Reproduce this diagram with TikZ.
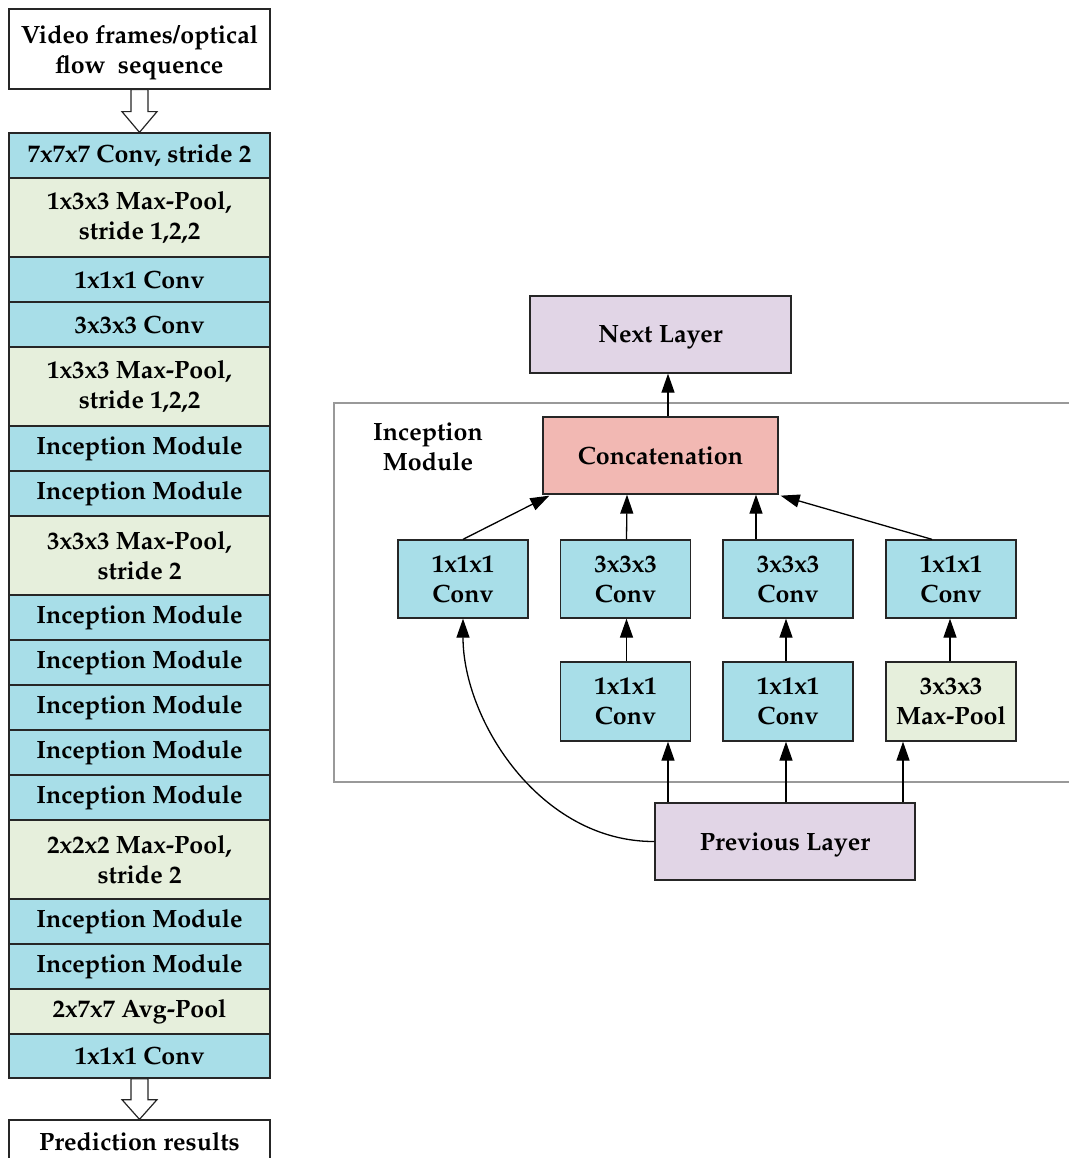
\documentclass[tikz,border=0pt]{standalone}
\usepackage[T1]{fontenc}
\usepackage{mathpazo}
\usetikzlibrary{arrows.meta,calc}
\definecolor{cblue}{HTML}{A8DEE8}
\definecolor{cgreen}{HTML}{E6EFDC}
\definecolor{cpurple}{HTML}{E1D5E6}
\definecolor{cpink}{HTML}{F2B8B3}
\definecolor{cframe}{HTML}{999999}
\tikzset{
  lbl/.style={font=\fontsize{25}{30}\selectfont\bfseries, align=center},
  box/.style={draw=black!85, line width=1.3pt, rectangle, inner sep=0pt, lbl},
  stackbox/.style={box, minimum width=261pt},
  conv/.style={fill=cblue},
  pool/.style={fill=cgreen},
  layer/.style={fill=cpurple, text depth=0pt},
  conn/.style={line width=1.3pt, -{Triangle[length=19pt,width=13pt]}},
  hollow/.style={draw=black!85, line width=1.2pt, fill=white},
}
\begin{document}
\begin{tikzpicture}[x=1pt,y=-1pt]
\useasboundingbox (0,0) rectangle (1068,1158);
% ---------- left column ----------
\node[stackbox, fill=white, minimum height=80pt, text depth=0pt] (in) at (139.5,49) {Video frames/optical\\flow~~sequence};
\node[stackbox, conv, minimum height=45pt] (c1) at (139.5,155.5) {7x7x7 Conv, stride 2};
\node[stackbox, pool, minimum height=79pt] (c2) at (139.5,217.5) {1x3x3 Max-Pool,\\stride 1,2,2};
\node[stackbox, conv, minimum height=45pt] (c3) at (139.5,279.5) {1x1x1 Conv};
\node[stackbox, conv, minimum height=45pt] (c4) at (139.5,324.5) {3x3x3 Conv};
\node[stackbox, pool, minimum height=79pt] (c5) at (139.5,386.5) {1x3x3 Max-Pool,\\stride 1,2,2};
\node[stackbox, conv, minimum height=45pt] (c6) at (139.5,448.5) {Inception Module};
\node[stackbox, conv, minimum height=45pt] (c7) at (139.5,493.5) {Inception Module};
\node[stackbox, pool, minimum height=79pt] (c8) at (139.5,555.5) {3x3x3 Max-Pool,\\stride 2};
\node[stackbox, conv, minimum height=45pt] (c9) at (139.5,617.5) {Inception Module};
\node[stackbox, conv, minimum height=45pt] (c10) at (139.5,662.5) {Inception Module};
\node[stackbox, conv, minimum height=45pt] (c11) at (139.5,707.5) {Inception Module};
\node[stackbox, conv, minimum height=45pt] (c12) at (139.5,752.5) {Inception Module};
\node[stackbox, conv, minimum height=45pt] (c13) at (139.5,797.5) {Inception Module};
\node[stackbox, pool, minimum height=79pt] (c14) at (139.5,859.5) {2x2x2 Max-Pool,\\stride 2};
\node[stackbox, conv, minimum height=45pt] (c15) at (139.5,921.5) {Inception Module};
\node[stackbox, conv, minimum height=45pt] (c16) at (139.5,966.5) {Inception Module};
\node[stackbox, pool, minimum height=45pt] (c17) at (139.5,1011.5) {2x7x7 Avg-Pool};
\node[stackbox, conv, minimum height=44pt] (c18) at (139.5,1056) {1x1x1 Conv};
\node[stackbox, fill=white, minimum height=50pt, text depth=0pt] (out) at (139.5,1145) {};
\node[lbl] (outtxt) at (139.5,1142) {Prediction results};
% hollow block arrows
\draw[hollow] ($(in.south)+(-8.5,0)$) -- ($(in.south)+(8.5,0)$) -- ($(in.south)+(8.5,22)$) -- ($(in.south)+(17.5,22)$)
  -- (c1.north) -- ($(in.south)+(-17.5,22)$) -- ($(in.south)+(-8.5,22)$) -- cycle;
\draw[hollow] ($(c18.south)+(-8.5,0)$) -- ($(c18.south)+(8.5,0)$) -- ($(c18.south)+(8.5,21)$) -- ($(c18.south)+(17.5,21)$)
  -- (out.north) -- ($(c18.south)+(-17.5,21)$) -- ($(c18.south)+(-8.5,21)$) -- cycle;
% ---------- inception module ----------
\draw[cframe, line width=1.3pt] (1075,403) -- (334,403) -- (334,782) -- (1075,782);
\node[lbl] (imlabel) at (428,447) {Inception\\Module};
\node[box, layer, minimum width=261pt, minimum height=77pt] (next) at (660.5,334.5) {Next Layer};
\node[box, fill=cpink, minimum width=235pt, minimum height=77pt] (concat) at (660.5,455.5) {Concatenation};
\node[box, conv, minimum width=130pt, minimum height=78pt] (t1) at (463,579) {1x1x1\\Conv};
\node[box, conv, minimum width=130pt, minimum height=78pt] (t2) at (625.5,579) {3x3x3\\Conv};
\node[box, conv, minimum width=130pt, minimum height=78pt] (t3) at (788,579) {3x3x3\\Conv};
\node[box, conv, minimum width=130pt, minimum height=78pt] (t4) at (951,579) {1x1x1\\Conv};
\node[box, conv, minimum width=130pt, minimum height=79pt] (b2) at (625.5,701.5) {1x1x1\\Conv};
\node[box, conv, minimum width=130pt, minimum height=79pt] (b3) at (788,701.5) {1x1x1\\Conv};
\node[box, pool, minimum width=130pt, minimum height=79pt] (b4) at (951,701.5) {3x3x3\\Max-Pool};
\node[box, layer, minimum width=260pt, minimum height=77pt] (prev) at (785,841.5) {Previous Layer};
% connectors
\draw[conn] ($(concat.north)+(7.5,0)$) -- ($(next.south)+(7.5,0)$);
\draw[conn] (t1.north) -- ($(concat.south west)+(7,1)$);
\draw[conn] ($(t2.north)+(1,0)$) -- ($(concat.south)+(-33.5,0)$);
\draw[conn] ($(t3.north)+(-32,0)$) -- ($(concat.south)+(95.5,0)$);
\draw[conn] ($(t4.north)+(-19,0)$) -- ($(concat.south east)+(2,1)$);
\draw[conn] ($(b2.north)+(1,0)$) -- ($(t2.south)+(1,0)$);
\draw[conn] ($(b3.north)+(-2,0)$) -- ($(t3.south)+(-2,0)$);
\draw[conn] ($(b4.north)+(-1,0)$) -- ($(t4.south)+(-1,0)$);
\draw[conn] ($(prev.north)+(-117,0)$) -- ($(b2.south)+(42.5,0)$);
\draw[conn] ($(prev.north)+(1,0)$) -- ($(b3.south)+(-2,0)$);
\draw[conn] ($(prev.north)+(118,0)$) -- ($(b4.south)+(-48,0)$);
\draw[conn] (prev.west) .. controls (540,842) and (463,720) .. (t1.south);
\end{tikzpicture}
\end{document}
